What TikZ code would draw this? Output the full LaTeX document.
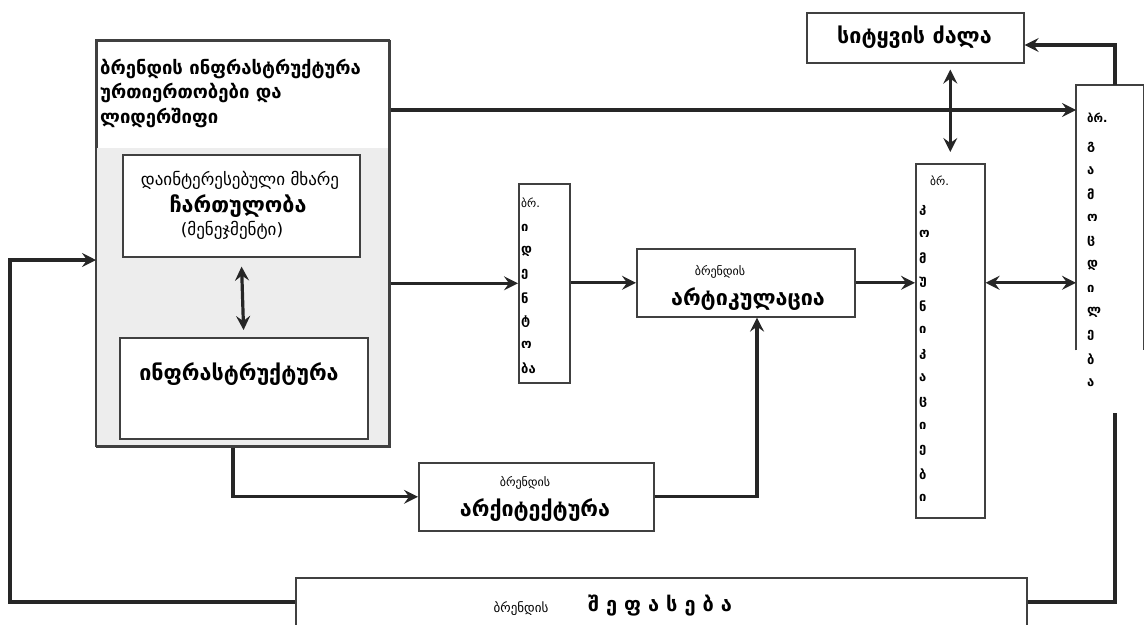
\documentclass[tikz,border=0pt]{standalone}
\usepackage{fontspec}
\setmainfont{DejaVu Sans}
\usetikzlibrary{arrows.meta}
\begin{document}
\begin{tikzpicture}[x=1pt,y=-1pt,
  box/.style={draw=black!75, line width=1.6pt, fill=white, inner sep=0pt, anchor=north west},
  conn/.style={line width=3.2pt, draw=black!85},
  tip/.tip={Stealth[length=14pt,width=14pt,inset=5pt]},
  arr/.style={conn, -tip},
  darr/.style={conn, tip-tip},
  small/.style={font=\fontsize{12}{14}\selectfont},
  mid/.style={font=\fontsize{17}{20}\selectfont},
  bold/.style={font=\fontsize{21.5}{25}\selectfont\bfseries},
  vl/.style={font=\fontsize{13}{15}\selectfont\bfseries, anchor=west, inner sep=0pt},
  vs/.style={font=\fontsize{11.5}{13}\selectfont, anchor=west, inner sep=0pt}
]
\useasboundingbox (0,0) rectangle (1147,624);
\clip (0,0) rectangle (1147,624);
% named helper coordinates
\coordinate (y45) at (0,45);
\coordinate (y110) at (0,110);
\coordinate (y260) at (0,260);
\coordinate (y602) at (0,602);
\coordinate (x10) at (10,0);
\coordinate (x233) at (233,0);
\coordinate (x757) at (757,0);
\coordinate (gamlow) at (1115,413);
% big left box
\node[box, minimum width=293pt, minimum height=406pt] (big) at (96,40) {};
\fill[black!7] (97,148) rectangle (388,445);
\draw[black!75, line width=1.6pt] (96,40) rectangle (389,446);
\node[anchor=west, align=left, inner sep=0pt, font=\fontsize{18.5}{24.5}\selectfont\bfseries] (bigtxt) at (100,93)
  {ბრენდის ინფრასტრუქტურა\\ურთიერთობები და\\ლიდერშიფი};
% inner boxes
\node[box, minimum width=237pt, minimum height=102pt] (part) at (122,154) {};
\node[mid] at (240,180) {დაინტერესებული მხარე};
\node[bold] at (238,206) {ჩართულობა};
\node[mid] at (232,230) {(მენეჯმენტი)};
\node[box, minimum width=248pt, minimum height=101pt] (infra) at (119,337) {};
\node[bold] at (239,374) {ინფრასტრუქტურა};
\draw[darr, shorten <=9pt, shorten >=7pt] (part.south) -- (infra.north);
% ideas
\node[box, minimum width=51pt, minimum height=199pt] (ideas) at (518,183) {};
\node[vs] at (521,203) {ბრ.};
\foreach \l [count=\i from 0] in {ი,დ,ე,ნ,ტ,ო,ბა}
  \node[vl] at (521,228+23.3*\i) {\l};
% articulation
\node[box, minimum width=218pt, minimum height=68pt] (artic) at (636,248) {};
\node[small] at (720,272) {ბრენდის};
\node[bold] at (748,299) {არტიკულაცია};
% communications
\node[box, minimum width=69pt, minimum height=354pt] (comms) at (915,163) {};
\node[vs] at (930,181) {ბრ.};
\foreach \l [count=\i from 0] in {კ,ო,მ,უ,ნ,ი,კ,ა,ც,ი,ე,ბ,ი}
  \node[vl] at (919,210+24*\i) {\l};
% word power
\node[box, minimum width=217pt, minimum height=50pt] (sitk) at (806,12) {};
\node[bold] at (914.5,37) {სიტყვის ძალა};
% experience (open box)
\node[anchor=north west, inner sep=0pt, minimum width=67pt, minimum height=265pt] (gam) at (1076,85) {};
\draw[black!75, line width=1.6pt] (gam.south west) -- (gam.north west) -- (gam.north east) -- (gam.south east);
\node[vs, font=\fontsize{11.5}{13}\selectfont\bfseries] at (1087,118) {ბრ.};
\foreach \l [count=\i from 0] in {გ,ა,მ,ო,ც,დ,ი,ლ,ე,ბ,ა}
  \node[vl] at (1087,147+23.6*\i) {\l};
% architecture
\node[box, minimum width=235pt, minimum height=68pt] (arch) at (418,462) {};
\node[small] at (525,483) {ბრენდის};
\node[bold] at (535,510) {არქიტექტურა};
% evaluation
\node[box, minimum width=731pt, minimum height=80pt] (eval) at (295,577) {};
\node[font=\fontsize{13}{15}\selectfont] at (521,609) {ბრენდის};
\node[font=\fontsize{20}{24}\selectfont\bfseries] at (660,606) {შ ე ფ ა ს ე ბ ა};
% connectors
\draw[arr] (big.east |- y110) -- (gam.west |- y110);
\draw[arr] (big.east |- ideas.west) -- (ideas.west);
\draw[arr] (ideas.east |- artic.west) -- (artic.west);
\draw[arr] (artic.east) -- (comms.west |- artic.east);
\draw[darr] (comms.east |- artic.east) -- (gam.west |- artic.east);
\draw[darr, shorten <=6pt, shorten >=11pt] (comms.north |- sitk.south) -- (comms.north);
\draw[arr] (gam.north -| gamlow) |- (sitk.east |- y45);
\draw[arr] (big.south -| x233) |- (arch.west);
\draw[arr] (arch.east) -| (artic.south -| x757);
\draw[arr] (eval.west |- y602) -- (x10 |- y602) |- (big.west |- y260);
\draw[conn] (eval.east |- y602) -| (gamlow);
\end{tikzpicture}
\end{document}
